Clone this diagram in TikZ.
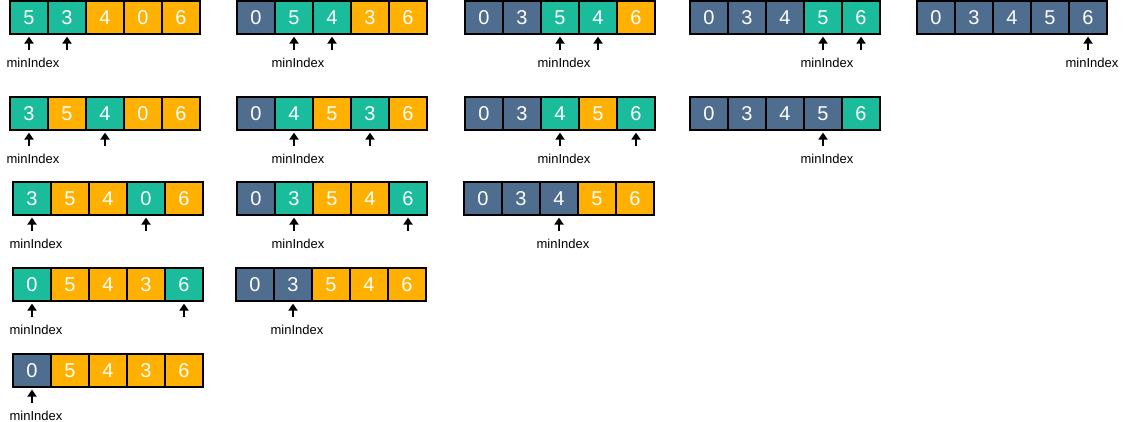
\documentclass[tikz,border=0pt]{standalone}
\usepackage{fontspec}
\setmainfont{Liberation Sans}
\usetikzlibrary{arrows.meta}
\definecolor{cteal}{HTML}{1ABC9C}
\definecolor{corange}{HTML}{FFB000}
\definecolor{cslate}{HTML}{4F6D8E}
\newcommand\drawarray[4]{%
  \foreach [count=\i] \v/\c in {#4} {
    \node[cell, fill=\c] (#1-\i) at ({#2+19+38*(\i-1)}, {#3+16.5}) {\v};
  }}
\newcommand\ptr[1]{%
  \coordinate (#1-tail) at ([yshift=-15pt]#1.south);
  \coordinate (#1-tip) at ([yshift=-2pt]#1.south);
  \draw[ptrline] (#1-tail) -- (#1-tip);}
\newcommand\minlabel[1]{%
  \node[lbl] (#1-lbl) at ([xshift=4pt,yshift=-28pt]#1.south) {minIndex};}
\begin{document}
\begin{tikzpicture}[x=1pt,y=-1pt,
  cell/.style={draw=black, line width=1.2pt, minimum width=38pt, minimum height=33pt,
    inner sep=0pt, text=white, font=\fontsize{20}{20}\selectfont},
  ptrline/.style={line width=1.9pt, -{Triangle[width=9pt,length=7pt]}},
  lbl/.style={inner sep=0pt, font=\fontsize{13}{14}\selectfont, text=black}]
\useasboundingbox (0,0) rectangle (1124,422);
% row 1
\drawarray{A1}{10}{1}{5/cteal,3/cteal,4/corange,0/corange,6/corange}
\ptr{A1-1}\ptr{A1-2}\minlabel{A1-1}
\drawarray{A2}{237}{1}{0/cslate,5/cteal,4/cteal,3/corange,6/corange}
\ptr{A2-2}\ptr{A2-3}\minlabel{A2-2}
\drawarray{A3}{465}{1}{0/cslate,3/cslate,5/cteal,4/cteal,6/corange}
\ptr{A3-3}\ptr{A3-4}\minlabel{A3-3}
\drawarray{A4}{690}{1}{0/cslate,3/cslate,4/cslate,5/cteal,6/cteal}
\ptr{A4-4}\ptr{A4-5}\minlabel{A4-4}
\drawarray{A5}{917}{1}{0/cslate,3/cslate,4/cslate,5/cslate,6/cslate}
\ptr{A5-5}\minlabel{A5-5}
% row 2
\drawarray{B1}{10}{97}{3/cteal,5/corange,4/cteal,0/corange,6/corange}
\ptr{B1-1}\ptr{B1-3}\minlabel{B1-1}
\drawarray{B2}{237}{97}{0/cslate,4/cteal,5/corange,3/cteal,6/corange}
\ptr{B2-2}\ptr{B2-4}\minlabel{B2-2}
\drawarray{B3}{465}{97}{0/cslate,3/cslate,4/cteal,5/corange,6/cteal}
\ptr{B3-3}\ptr{B3-5}\minlabel{B3-3}
\drawarray{B4}{690}{97}{0/cslate,3/cslate,4/cslate,5/cslate,6/cteal}
\ptr{B4-4}\minlabel{B4-4}
% row 3
\drawarray{C1}{13}{182}{3/cteal,5/corange,4/corange,0/cteal,6/corange}
\ptr{C1-1}\ptr{C1-4}\minlabel{C1-1}
\drawarray{C2}{237}{182}{0/cslate,3/cteal,5/corange,4/corange,6/cteal}
\ptr{C2-2}\ptr{C2-5}\minlabel{C2-2}
\drawarray{C3}{464}{182}{0/cslate,3/cslate,4/cslate,5/corange,6/corange}
\ptr{C3-3}\minlabel{C3-3}
% row 4
\drawarray{D1}{13}{268}{0/cteal,5/corange,4/corange,3/corange,6/cteal}
\ptr{D1-1}\ptr{D1-5}\minlabel{D1-1}
\drawarray{D2}{236}{268}{0/cslate,3/cslate,5/corange,4/corange,6/corange}
\ptr{D2-2}\minlabel{D2-2}
% row 5
\drawarray{E1}{13}{354}{0/cslate,5/corange,4/corange,3/corange,6/corange}
\ptr{E1-1}\minlabel{E1-1}
\end{tikzpicture}
\end{document}
